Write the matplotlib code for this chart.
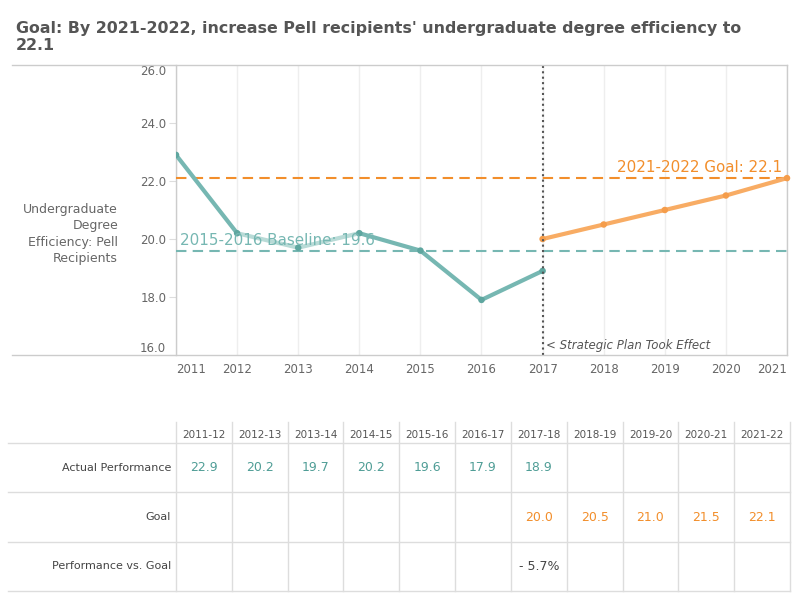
# Pell recipients degree efficiency chart with performance table
import matplotlib
matplotlib.use("Agg")
import matplotlib.pyplot as plt
from matplotlib.lines import Line2D

# data
years = [2011, 2012, 2013, 2014, 2015, 2016, 2017, 2018, 2019, 2020, 2021]
actual_years = [2011, 2012, 2013, 2014, 2015, 2016, 2017]
actual = [22.9, 20.2, 19.7, 20.2, 19.6, 17.9, 18.9]
goal_years = [2017, 2018, 2019, 2020, 2021]
goal = [20.0, 20.5, 21.0, 21.5, 22.1]
# highlight state of each actual segment (light = faded)
segment_light = [False, True, True, False, False, False]
baseline = 19.6
target = 22.1
plan_year = 2017
y_ticks = [16, 18, 20, 22, 24, 26]

school_years = ["2011-12", "2012-13", "2013-14", "2014-15", "2015-16", "2016-17",
                "2017-18", "2018-19", "2019-20", "2020-21", "2021-22"]
row_labels = ["Actual Performance", "Goal", "Performance vs. Goal"]
perf_vs_goal = {"2017-18": "- 5.7%"}

TEAL = "#76b7b2"
TEAL_LIGHT = "#b9dbd7"
TEAL_DARK = "#5ea69f"
TEAL_TEXT = "#4f9d96"
ORANGE = "#f28e2b"
ORANGE_LINE = "#f8ac64"
GRAY = "#666666"
BORDER = "#cccccc"

W, H = 799, 599
fig = plt.figure(figsize=(W / 100, H / 100), dpi=100)


def fx(px):
    return px / W


def fy(py):
    return 1 - py / H


# title
fig.text(fx(16), fy(37), "Goal: By 2021-2022, increase Pell recipients' undergraduate degree efficiency to\n22.1",
         fontsize=11.4, fontweight="bold", color="#555555", ha="left", va="center", linespacing=1.1)

# main chart
ax = fig.add_axes([fx(176), fy(355), fx(787) - fx(176), fy(65) - fy(355)])
ax.set_xlim(years[0], years[-1])
ax.set_ylim(y_ticks[0], y_ticks[-1])

for i in range(len(actual) - 1):
    c = TEAL_LIGHT if segment_light[i] else TEAL
    ax.plot(actual_years[i:i + 2], actual[i:i + 2], color=c, lw=3, solid_capstyle="round", zorder=4)
ax.scatter(actual_years, actual, s=22, color=TEAL_DARK, zorder=5, edgecolors="none")

ax.plot(goal_years, goal, color=ORANGE_LINE, lw=3, solid_capstyle="round", zorder=4)
ax.scatter(goal_years, goal, s=22, color="#f59d4b", zorder=5, edgecolors="none", clip_on=False)

ax.axhline(target, color=ORANGE, lw=1.5, dashes=(5, 3), zorder=3)
ax.axhline(baseline, color=TEAL, lw=1.5, dashes=(5, 3), zorder=3)
ax.axvline(plan_year, color="#555555", lw=1.5, ls=(0, (1, 1.6)), zorder=6, clip_on=False)

ax.text(0.992, target + 0.12, f"2021-2022 Goal: {target}", transform=ax.get_yaxis_transform(),
        ha="right", va="bottom", fontsize=10.9, color=ORANGE, zorder=7)
ax.text(years[0] + 0.06, baseline + 0.1, f"2015-2016 Baseline: {baseline}",
        ha="left", va="bottom", fontsize=10.9, color=TEAL, zorder=7)
ax.text(plan_year + 0.06, y_ticks[0] + 0.12, "< Strategic Plan Took Effect",
        ha="left", va="bottom", fontsize=8.5, style="italic", color="#555555")

ax.set_xticks(years)
ax.set_xticklabels([str(y) for y in years])
ax.set_yticks(y_ticks)
ax.set_yticklabels([f"{v:.1f}" for v in y_ticks])
ax.tick_params(axis="x", length=0, pad=6, labelsize=8.5, labelcolor=GRAY)
ax.tick_params(axis="y", length=5, width=0.8, color="#dddddd", pad=2, labelsize=8.5, labelcolor=GRAY)
xl = ax.get_xticklabels()
xl[0].set_ha("left")
xl[-1].set_ha("right")
yl = ax.get_yticklabels()
yl[0].set_va("bottom")
yl[-1].set_va("top")

ax.grid(axis="x", color="#eeeeee", lw=1)
ax.set_axisbelow(True)
for side in ["top", "bottom"]:
    ax.spines[side].set_visible(False)
for side in ["left", "right"]:
    ax.spines[side].set_color(BORDER)
    ax.spines[side].set_linewidth(1)

ax.set_ylabel("Undergraduate\nDegree\nEfficiency: Pell\nRecipients", rotation=0, ha="right", va="center",
              fontsize=9, color=GRAY, labelpad=0, linespacing=1.35)
ax.yaxis.set_label_coords((118 - 176) / (787 - 176), 0.417)

for py in (65, 355):
    fig.add_artist(Line2D([fx(12), fx(787)], [fy(py), fy(py)], color=BORDER, lw=1))

# table below
tb = fig.add_axes([fx(176), fy(591), fx(790) - fx(176), fy(422) - fy(591)])
n = len(school_years)
tb.set_xlim(0, n)
tb.set_ylim(3, -0.426)
tb.axis("off")

line_kw = dict(color="#dddddd", lw=1, clip_on=False)
for i in range(n + 1):
    tb.plot([i, i], [-0.426, 3], **line_kw)
for r in range(4):
    tb.plot([-3.01, n], [r, r], **line_kw)

for i, sy in enumerate(school_years):
    tb.text(i + 0.5, -0.17, sy, ha="center", va="center", fontsize=7.5, color="#555555")

for r, lab in enumerate(row_labels):
    tb.text(-0.09, r + 0.5, lab, ha="right", va="center", fontsize=8, color="#444444")

for y, v in zip(actual_years, actual):
    i = years.index(y)
    tb.text(i + 0.5, 0.5, f"{v:.1f}", ha="center", va="center", fontsize=9, color=TEAL_TEXT)
for y, v in zip(goal_years, goal):
    i = years.index(y)
    tb.text(i + 0.5, 1.5, f"{v:.1f}", ha="center", va="center", fontsize=9, color=ORANGE)
for sy, v in perf_vs_goal.items():
    i = school_years.index(sy)
    tb.text(i + 0.5, 2.5, v, ha="center", va="center", fontsize=9, color="#444444")

fig.savefig("out.png", dpi=100)
